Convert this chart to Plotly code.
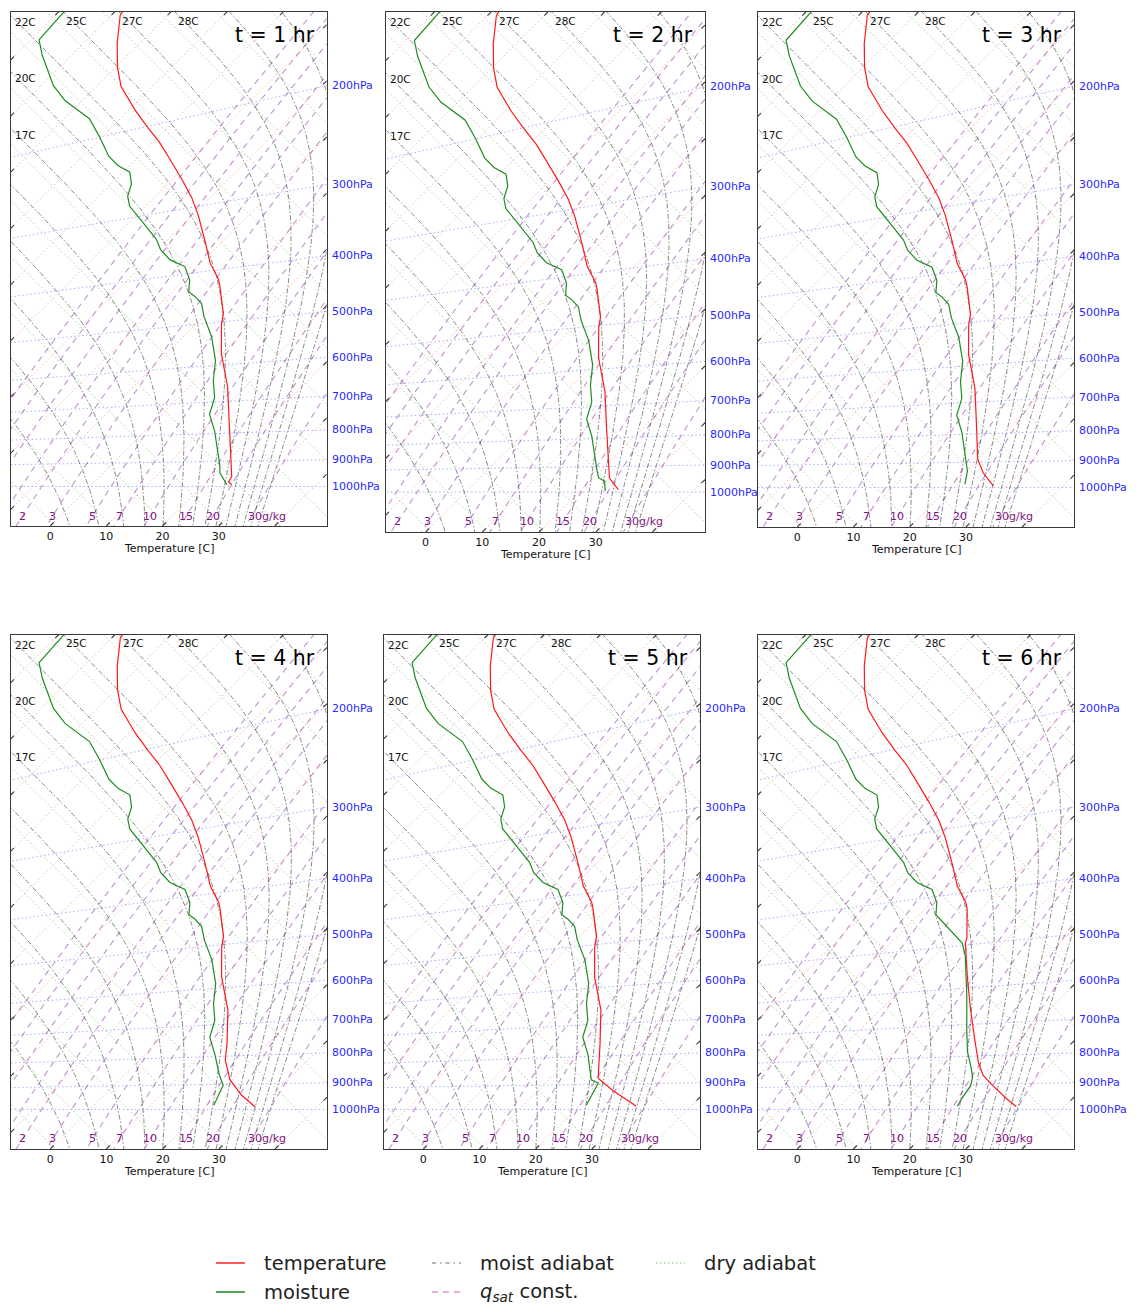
import numpy as np
import plotly.graph_objects as go

# ---------------------------------------------------------------- data
KAPPA = 0.286
W, H = 1137, 1304

TIMES_HR = [1, 2, 3, 4, 5, 6]
ISOBARS = [200, 300, 400, 500, 600, 700, 800, 900, 1000]           # hPa
ISOTHERMS = list(range(-100, 61, 10))                               # C
DRY_THETA = list(range(240, 421, 10))                               # K
Q_SAT = [0.5, 0.7, 1, 1.5, 2, 3, 5, 7, 10, 15, 20, 30]              # g/kg
Q_LABELED = [2, 3, 5, 7, 10, 15, 20, 30]
# moist adiabats, identified by their potential temperature aloft (K), and their labels
MOIST_THETA = [273, 283, 293, 303, 313, 323, 333, 343, 353, 363, 373, 383, 393, 403]
MOIST_LABEL = ["", "", "", "", "", "17C", "20C", "22C", "25C", "27C", "28C", "", "", ""]
T_TICKS = [0, 10, 20, 30]

# shared upper-air part of the soundings (pressure hPa, temperature C)
P_T_UPPER = [112, 114, 130, 146, 161, 183, 201, 218, 235, 264, 287, 311, 351, 387, 417]
T_UPPER = [-78.7, -78.4, -74.0, -69.7, -65.6, -58.9, -53.6, -48.8, -44.6, -38.0,
           -33.3, -29.1, -23.1, -18.3, -13.9]
P_Q_UPPER = [102, 114, 124, 133, 147, 161, 181, 200, 221, 233, 243, 257, 271, 284,
             307, 337, 354, 372, 387, 411, 433]
Q_UPPER = [-89.1, -88.5, -85.2, -82.2, -77.8, -73.0, -65.5, -60.4, -55.4, -52.1,
           -48.8, -46.4, -44.9, -42.8, -38.0, -32.1, -29.5, -26.1, -22.2, -19.0, -17.0]

# lower part, per panel: temperature
P_T_LOW = [
    [430, 483, 504, 572, 598, 660, 761, 888, 959, 981, 993],
    [430, 483, 504, 572, 598, 660, 761, 888, 944, 990],
    [430, 483, 504, 572, 598, 660, 761, 888, 942, 994],
    [430, 483, 504, 572, 598, 660, 761, 813, 884, 942, 990],
    [430, 483, 504, 572, 598, 660, 761, 877, 922, 986],
    [429, 485, 496, 572, 656, 751, 823, 868, 908, 957, 988],
]
T_LOW = [
    [-12.4, -7.0, -5.5, -0.2, 2.0, 6.9, 13.2, 20.1, 23.5, 23.9, 25.0],
    [-12.4, -7.0, -5.5, -0.2, 2.0, 6.9, 13.2, 20.1, 22.9, 26.5],
    [-12.4, -7.0, -5.5, -0.2, 2.0, 6.9, 13.2, 20.0, 23.5, 27.6],
    [-12.4, -7.0, -5.5, -0.2, 2.0, 6.9, 12.8, 15.3, 19.7, 24.4, 29.0],
    [-12.4, -7.0, -5.5, -0.2, 2.0, 6.9, 12.8, 18.5, 23.1, 30.2],
    [-12.5, -7.4, -6.7, -0.4, 5.9, 12.4, 16.9, 20.0, 23.7, 28.3, 31.4],
]
# lower part, per panel: moisture (dew point)
P_Q_LOW = [
    [443, 458, 486, 531, 588, 640, 687, 737, 792, 913, 945, 979, 993],
    [443, 458, 486, 531, 588, 640, 687, 737, 792, 913, 942, 956, 995],
    [443, 458, 486, 531, 588, 640, 687, 737, 792, 933, 986],
    [443, 458, 486, 531, 588, 640, 687, 737, 792, 865, 903, 982],
    [443, 458, 486, 531, 588, 640, 687, 737, 792, 883, 895, 982],
    [467, 495, 523, 617, 718, 785, 835, 873, 906, 956, 987],
]
Q_LOW = [
    [-15.1, -12.7, -9.8, -4.9, 0.0, 3.2, 6.4, 8.5, 12.4, 19.3, 20.8, 23.2, 24.1],
    [-15.1, -12.7, -9.8, -4.9, 0.0, 3.2, 6.4, 8.5, 12.4, 19.3, 20.9, 22.6, 24.4],
    [-15.1, -12.7, -9.8, -4.9, 0.0, 3.2, 6.4, 8.5, 12.4, 20.3, 22.2],
    [-15.1, -12.7, -9.8, -4.9, 0.0, 3.2, 6.4, 8.5, 12.4, 16.9, 19.4, 21.3],
    [-15.1, -12.7, -9.8, -4.9, 0.0, 3.2, 6.4, 8.5, 12.4, 17.6, 19.4, 21.2],
    [-11.6, -7.3, -4.5, 2.7, 9.1, 13.0, 16.2, 18.4, 19.6, 20.3, 20.9],
]

# ---------------------------------------------------------------- layout constants
X_RANGE = [518.1, 630.7]     # diagram coordinate X = T + theta (K)
Y_RANGE = [-14.06, 169.0]    # diagram coordinate Y = theta - T (K)
Q_LABEL_Y = -10.5
TICK_D = 1.25                # frame tick length (diagram units, per component)
# panel frames in pixels: left, top, right, bottom
BOXES = [(10.5, 11.7, 326.7, 526.0), (385.5, 12.0, 705.0, 532.0), (757.5, 12.0, 1074.0, 527.0),
         (10.5, 634.5, 327.0, 1149.0), (383.5, 634.5, 700.0, 1149.0), (757.5, 634.5, 1074.0, 1149.0)]

C_ISOBAR = "rgba(70,70,255,0.45)"
C_ISOTHERM = "rgba(255,60,60,0.38)"
C_DRY = "rgba(30,140,30,0.38)"
C_QSAT = "rgba(150,50,180,0.55)"
C_MOIST = "rgba(60,60,60,0.6)"
C_RED = "rgb(255,25,25)"
C_GREEN = "rgb(30,140,30)"
C_FRAME = "#3a3a3a"
FONT = "DejaVu Sans"


def to_xy(T_C, p):
    T_C = np.asarray(T_C, float)
    p = np.asarray(p, float)
    TK = T_C + 273.15
    th = TK * (1000.0 / p) ** KAPPA
    return TK + th, th - TK


def es_hpa(TK):
    return 6.112 * np.exp(17.67 * (TK - 273.15) / (TK - 29.65))


def moist_adiabat(theta_top):
    """pseudo-adiabat integrated downward from 70 hPa, where the parcel is dry."""
    def rhs(T, p):
        es = es_hpa(T)
        rs = 0.622 * es / (p - es)
        return (287.0 * T + 2.5e6 * rs) / (1004.0 + 2.5e6 ** 2 * rs * 0.622 / (287.0 * T * T)) / p
    p, dp = 70.0, 2.0
    T = theta_top * (p / 1000.0) ** KAPPA
    ps, Ts = [p], [T]
    while p < 1300.0:
        k1 = rhs(T, p)
        k2 = rhs(T + 0.5 * dp * k1, p + 0.5 * dp)
        k3 = rhs(T + 0.5 * dp * k2, p + 0.5 * dp)
        k4 = rhs(T + dp * k3, p + dp)
        T += dp * (k1 + 2 * k2 + 2 * k3 + k4) / 6.0
        p += dp
        ps.append(p)
        Ts.append(T)
    return np.array(Ts) - 273.15, np.array(ps)


# ---------------------------------------------------------------- background line geometry
PG = np.geomspace(50, 1300, 160)
TG = np.linspace(-140, 80, 60)

bg_isobar = [to_xy(TG, np.full_like(TG, p)) for p in ISOBARS]
bg_isotherm = [to_xy(np.full_like(PG, t), PG) for t in ISOTHERMS]
bg_dry = []
for th in DRY_THETA:
    Tk = th * (PG / 1000.0) ** KAPPA
    bg_dry.append(to_xy(Tk - 273.15, PG))
bg_q = []
for q in Q_SAT:
    qk = q / 1000.0
    es = qk * PG / (0.622 + 0.378 * qk)
    lg = np.log(es / 6.112)
    Tq = 243.5 * lg / (17.67 - lg)
    bg_q.append(to_xy(Tq, PG))
bg_moist = [to_xy(*moist_adiabat(th)) for th in MOIST_THETA]

# frame ticks where the isotherms meet the frame
tick_lines = []
for tc in ISOTHERMS:
    s = 2 * (tc + 273.15)          # X - Y along an isotherm
    xl, xr = X_RANGE
    yb, yt = Y_RANGE
    xb = s + yb
    if xl <= xb <= xr:
        tick_lines.append(([xb, xb + TICK_D], [yb, yb + TICK_D]))
    xt = s + yt
    if xl <= xt <= xr:
        tick_lines.append(([xt, xt - TICK_D], [yt, yt - TICK_D]))
    yl = xl - s
    if yb < yl < yt:
        tick_lines.append(([xl, xl + TICK_D], [yl, yl + TICK_D]))
    yr = xr - s
    if yb < yr < yt:
        tick_lines.append(([xr, xr - TICK_D], [yr, yr - TICK_D]))


def merged(lines):
    X, Y = [], []
    for xs, ys in lines:
        X += list(xs) + [None]
        Y += list(ys) + [None]
    return X, Y


fig = go.Figure()
annotations = []
shapes = []
layout_axes = {}

for i, box in enumerate(BOXES):
    n = i + 1
    xa = "x" if n == 1 else f"x{n}"
    ya = "y" if n == 1 else f"y{n}"
    l, t, r, b = box

    def add(lines, color, width, dash):
        X, Y = merged(lines)
        fig.add_trace(go.Scatter(x=X, y=Y, mode="lines", xaxis=xa, yaxis=ya,
                                 line=dict(color=color, width=width, dash=dash),
                                 hoverinfo="skip", showlegend=False))

    add(bg_isobar, C_ISOBAR, 1.0, "1.5px,2.5px")
    add(bg_isotherm, C_ISOTHERM, 1.0, "1.5px,2.5px")
    add(bg_dry, C_DRY, 1.0, "1.5px,2.5px")
    add(bg_q, C_QSAT, 1.1, "6px,5px")
    add(bg_moist, C_MOIST, 1.0, "5px,2px,1.5px,2px")
    add(tick_lines, C_FRAME, 1.1, "solid")

    # soundings
    tx, ty = to_xy(T_UPPER + T_LOW[i], P_T_UPPER + P_T_LOW[i])
    qx, qy = to_xy(Q_UPPER + Q_LOW[i], P_Q_UPPER + P_Q_LOW[i])
    fig.add_trace(go.Scatter(x=tx, y=ty, mode="lines", xaxis=xa, yaxis=ya,
                             line=dict(color=C_RED, width=1.2), hoverinfo="skip", showlegend=False))
    fig.add_trace(go.Scatter(x=qx, y=qy, mode="lines", xaxis=xa, yaxis=ya,
                             line=dict(color=C_GREEN, width=1.2), hoverinfo="skip", showlegend=False))

    # axes
    tickvals = [2 * (tt + 273.15) + Y_RANGE[0] for tt in T_TICKS]
    layout_axes["xaxis" if n == 1 else f"xaxis{n}"] = dict(
        domain=[l / W, r / W], range=X_RANGE, anchor=ya, showgrid=False, zeroline=False,
        showline=True, mirror=True, linecolor=C_FRAME, linewidth=1.3,
        ticks="", tickvals=tickvals, ticktext=[str(v) for v in T_TICKS],
        tickfont=dict(size=11, color="#111", family=FONT), fixedrange=True)
    layout_axes["yaxis" if n == 1 else f"yaxis{n}"] = dict(
        domain=[1 - b / H, 1 - t / H], range=Y_RANGE, anchor=xa, showgrid=False, zeroline=False,
        showline=True, mirror=True, linecolor=C_FRAME, linewidth=1.3,
        showticklabels=False, ticks="", fixedrange=True)

    # isobar labels at right edge
    for p in ISOBARS:
        c = (1000.0 / p) ** KAPPA
        yv = X_RANGE[1] * (c - 1) / (c + 1)
        annotations.append(dict(x=X_RANGE[1], y=yv, xref=xa, yref=ya, text=f"{p}hPa",
                                showarrow=False, xanchor="left", yanchor="middle", xshift=3,
                                font=dict(size=11, color="rgb(40,40,255)", family=FONT)))
    # q_sat labels near bottom
    for q, (xs, ys) in zip(Q_SAT, bg_q):
        if q not in Q_LABELED:
            continue
        order = np.argsort(ys)
        xv = float(np.interp(Q_LABEL_Y, np.asarray(ys)[order], np.asarray(xs)[order]))
        if not (X_RANGE[0] <= xv <= X_RANGE[1]):
            continue
        last = q == Q_LABELED[-1]
        annotations.append(dict(x=xv, y=Q_LABEL_Y, xref=xa, yref=ya,
                                text=f"{q}g/kg" if last else f"{q}",
                                showarrow=False, xanchor="left" if last else "center",
                                xshift=-6 if last else 0, yanchor="middle",
                                font=dict(size=11, color="rgb(128,20,128)", family=FONT)))
    # moist adiabat labels where the lines leave the frame (top or left)
    for lab, (xs, ys) in zip(MOIST_LABEL, bg_moist):
        if not lab:
            continue
        xs = np.asarray(xs)[::-1]   # from high pressure upward
        ys = np.asarray(ys)[::-1]
        k0 = int(np.argmin(np.abs(ys)))
        for k in range(k0, len(xs) - 1):
            if xs[k + 1] < X_RANGE[0] or ys[k + 1] > Y_RANGE[1]:
                fy = (Y_RANGE[1] - ys[k]) / (ys[k + 1] - ys[k]) if ys[k + 1] > Y_RANGE[1] else 2.0
                fx = (X_RANGE[0] - xs[k]) / (xs[k + 1] - xs[k]) if xs[k + 1] < X_RANGE[0] else 2.0
                if fy <= fx:
                    xe = xs[k] + fy * (xs[k + 1] - xs[k])
                    annotations.append(dict(x=xe, y=Y_RANGE[1], xref=xa, yref=ya, text=lab,
                                            showarrow=False, xanchor="left", yanchor="top",
                                            xshift=1, yshift=-1,
                                            font=dict(size=10.5, color="#111", family=FONT)))
                else:
                    ye = ys[k] + fx * (ys[k + 1] - ys[k])
                    annotations.append(dict(x=X_RANGE[0], y=ye, xref=xa, yref=ya, text=lab,
                                            showarrow=False, xanchor="left", yanchor="top",
                                            xshift=2, yshift=1,
                                            font=dict(size=10.5, color="#111", family=FONT)))
                break

    # title and x label
    annotations.append(dict(x=(r - 10) / W, y=1 - (t + 23) / H, xref="paper", yref="paper",
                            text=f"t = {TIMES_HR[i]} hr", showarrow=False, xanchor="right",
                            yanchor="middle", font=dict(size=20.5, color="#000", family=FONT)))
    annotations.append(dict(x=(l + r) / 2 / W, y=1 - (b + 22) / H, xref="paper", yref="paper",
                            text="Temperature [C]", showarrow=False, xanchor="center",
                            yanchor="middle", font=dict(size=11, color="#111", family=FONT)))

# ---------------------------------------------------------------- manual legend
LEG = [
    ("temperature", "rgba(255,40,40,0.85)", "solid", 216, 1263),
    ("moisture", "rgba(30,140,30,0.85)", "solid", 216, 1292),
    ("moist adiabat", "rgba(110,110,110,0.5)", "4px,4px,1.5px,4px", 432, 1263),
    ("<i>q<sub>sat</sub></i> const.", "rgba(210,120,210,0.6)", "6px,5px", 432, 1292),
    ("dry adiabat", "rgba(60,170,60,0.35)", "1.5px,2.5px", 656, 1263),
]
for text, col, dash, x0, yy in LEG:
    shapes.append(dict(type="line", xref="paper", yref="paper", x0=x0 / W, x1=(x0 + 29) / W,
                       y0=1 - yy / H, y1=1 - yy / H, line=dict(color=col, width=1.8, dash=dash)))
    annotations.append(dict(x=(x0 + 46) / W, y=1 - yy / H, xref="paper", yref="paper", text=text,
                            showarrow=False, xanchor="left", yanchor="middle",
                            font=dict(size=19.5, color="#222", family=FONT)))

fig.update_layout(width=W, height=H, autosize=False, margin=dict(l=0, r=0, t=0, b=0),
                  paper_bgcolor="white", plot_bgcolor="white", showlegend=False,
                  annotations=annotations, shapes=shapes, **layout_axes)
fig.write_html("out.html")
